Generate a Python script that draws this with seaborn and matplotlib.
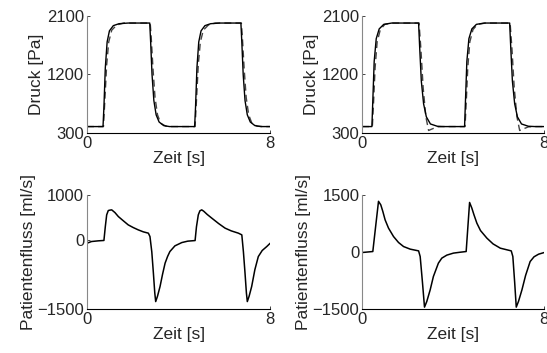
import matplotlib
matplotlib.use("Agg")
import matplotlib.pyplot as plt
import numpy as np
import pandas as pd
import seaborn as sns

# pressure, left case: measured (solid) and simulated (dashed)
t_p1_meas = [0, 0.70, 0.74, 0.80, 0.88, 0.98, 1.15, 1.40, 1.80, 2.74, 2.78, 2.84, 2.92, 3.02, 3.15, 3.35, 3.60,
             4.70, 4.74, 4.80, 4.88, 4.98, 5.15, 5.40, 5.80, 6.72, 6.76, 6.82, 6.90, 7.00, 7.13, 7.33, 7.60, 8.0]
p1_meas = [400, 400, 700, 1300, 1700, 1870, 1950, 1980, 1990, 1990, 1700, 1200, 800, 580, 470, 415, 400,
           400, 700, 1300, 1700, 1870, 1950, 1980, 1990, 1990, 1700, 1200, 800, 580, 470, 415, 400, 400]
t_p1_sim = [0, 0.72, 0.78, 0.86, 0.95, 1.08, 1.30, 1.60, 2.76, 2.80, 2.88, 2.97, 3.08, 3.22, 3.45, 3.70,
            4.72, 4.78, 4.86, 4.95, 5.08, 5.30, 5.60, 6.74, 6.78, 6.86, 6.95, 7.06, 7.20, 7.43, 7.70, 8.0]
p1_sim = [400, 400, 800, 1350, 1700, 1880, 1960, 1990, 1990, 1800, 1300, 850, 580, 450, 405, 400,
          400, 800, 1350, 1700, 1880, 1960, 1990, 1990, 1800, 1300, 850, 580, 450, 405, 400, 400]

# pressure, right case
t_p2_meas = [0, 0.43, 0.47, 0.53, 0.62, 0.75, 0.95, 1.30, 2.48, 2.53, 2.60, 2.70, 2.82, 3.00, 3.30, 3.60,
             4.50, 4.54, 4.60, 4.69, 4.82, 5.02, 5.37, 6.48, 6.53, 6.60, 6.70, 6.82, 7.00, 7.30, 7.60, 8.0]
p2_meas = [400, 400, 800, 1400, 1750, 1900, 1970, 1990, 1990, 1600, 1100, 750, 550, 440, 405, 400,
           400, 800, 1400, 1750, 1900, 1970, 1990, 1990, 1600, 1100, 750, 550, 440, 405, 400, 400]
t_p2_sim = [0, 0.45, 0.50, 0.57, 0.66, 0.80, 1.00, 1.35, 2.50, 2.58, 2.68, 2.80, 2.92, 3.05, 3.30, 3.60,
            4.52, 4.57, 4.64, 4.73, 4.87, 5.07, 5.42, 6.50, 6.58, 6.68, 6.80, 6.92, 7.05, 7.30, 7.60, 8.0]
p2_sim = [400, 400, 750, 1300, 1700, 1890, 1970, 1990, 1990, 1600, 1000, 550, 340, 360, 395, 400,
          400, 750, 1300, 1700, 1890, 1970, 1990, 1990, 1600, 1000, 550, 340, 360, 395, 400, 400]

# patient flow, left case
t_q1 = [0, 0.20, 0.50, 0.74, 0.80, 0.86, 0.93, 1.00, 1.08, 1.22, 1.37, 1.59, 1.80, 2.02, 2.24, 2.46, 2.68,
        2.75, 2.83, 2.90, 2.96, 3.00, 3.08, 3.19, 3.30, 3.41, 3.52, 3.62, 3.84, 4.14, 4.40, 4.72,
        4.78, 4.86, 4.93, 5.01, 5.10, 5.25, 5.45, 5.75, 6.03, 6.30, 6.61, 6.76,
        6.83, 6.90, 6.96, 7.00, 7.08, 7.19, 7.33, 7.48, 7.65, 7.85, 8.0]
q1 = [-60, -23, -8, 0, 300, 561, 656, 665, 671, 612, 524, 430, 342, 283, 232, 189, 160,
      86, -250, -717, -1150, -1340, -1220, -1010, -740, -498, -350, -243, -118, -46, -15, -2,
      300, 561, 650, 671, 640, 570, 489, 370, 270, 210, 160, 123,
      -250, -717, -1150, -1340, -1220, -1010, -640, -353, -220, -133, -60]

# patient flow, right case
t_q2 = [0, 0.47, 0.60, 0.72, 0.82, 0.91, 1.01, 1.16, 1.38, 1.60, 1.82, 2.11, 2.48,
        2.55, 2.65, 2.74, 2.84, 2.99, 3.13, 3.35, 3.50, 3.72, 4.01, 4.30, 4.57,
        4.65, 4.72, 4.82, 4.91, 5.04, 5.20, 5.48, 5.75, 6.07, 6.55,
        6.62, 6.70, 6.77, 6.87, 7.02, 7.18, 7.38, 7.55, 7.75, 8.0]
q2 = [-17, 9, 700, 1330, 1237, 1063, 842, 624, 403, 246, 140, 72, 26,
      -122, -800, -1454, -1306, -998, -649, -297, -165, -86, -33, -10, 9,
      700, 1300, 1150, 980, 755, 560, 361, 210, 97, 26,
      -122, -800, -1454, -1300, -998, -620, -254, -130, -61, -17]

sns.set_theme(style="ticks")
plt.rcParams["font.family"] = ["Liberation Sans", "DejaVu Sans"]

fig = plt.figure(figsize=(5.47, 3.53), dpi=100)
boxes = [[0.159, 0.623, 0.335, 0.332], [0.662, 0.623, 0.333, 0.332],
         [0.159, 0.125, 0.335, 0.323], [0.662, 0.125, 0.333, 0.323]]
axes = [fig.add_axes(b) for b in boxes]

pressure = [(t_p1_meas, p1_meas, t_p1_sim, p1_sim), (t_p2_meas, p2_meas, t_p2_sim, p2_sim)]
for ax, (tm, pm, ts, ps) in zip(axes[:2], pressure):
    sns.lineplot(x=ts, y=ps, ax=ax, color="#444444", lw=1.0, linestyle=(0, (5, 3)))
    sns.lineplot(x=tm, y=pm, ax=ax, color="black", lw=1.0)
    ax.set_ylim(300, 2100)
    ax.set_yticks([300, 1200, 2100])
    ax.set_ylabel("Druck [Pa]", fontsize=12.5, labelpad=2)

flow = [(t_q1, q1, (-1500, 1000)), (t_q2, q2, (-1500, 1500))]
for ax, (t, q, lim) in zip(axes[2:], flow):
    sns.lineplot(x=t, y=q, ax=ax, color="black", lw=1.1)
    ax.set_ylim(*lim)
    ax.set_yticks([lim[0], 0, lim[1]])
    ax.set_yticklabels(["\u22121500", "0", str(lim[1])])
    ax.set_ylabel("Patientenfluss [ml/s]", fontsize=12.5, labelpad=1)

for ax in axes:
    ax.set_xlim(0, 8)
    ax.set_xticks([0, 8])
    ax.set_xlabel("Zeit [s]", fontsize=12.5, labelpad=0)
    ax.tick_params(axis="both", labelsize=12, direction="in", length=2, width=0.6, pad=2)
    ax.spines["top"].set_visible(False)
    ax.spines["right"].set_visible(False)
    ax.spines["left"].set_color("#888888")
    ax.spines["left"].set_linewidth(0.8)
    ax.spines["bottom"].set_color("black")
    ax.spines["bottom"].set_linewidth(0.8)

fig.savefig("out.png", dpi=100)
